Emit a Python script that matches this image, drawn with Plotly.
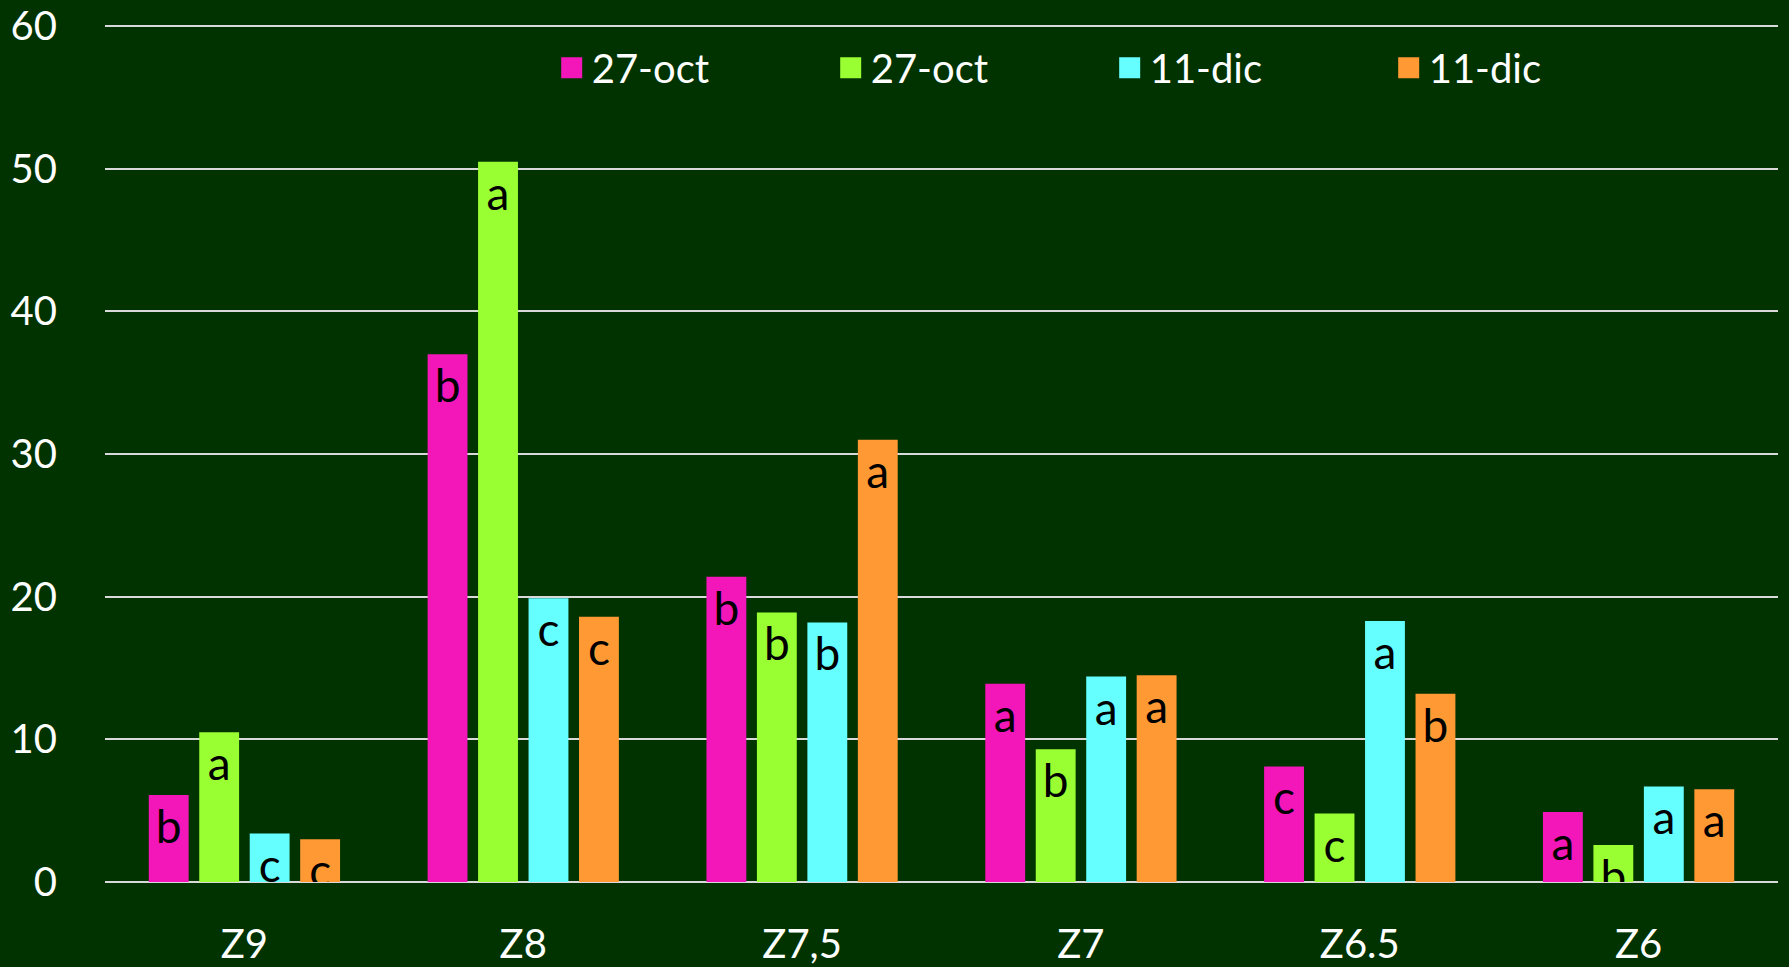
import plotly.graph_objects as go

categories = ["Z9", "Z8", "Z7,5", "Z7", "Z6.5", "Z6"]
series_names = ["27-oct", "27-oct", "11-dic", "11-dic"]
s1_values = [6.1, 37.0, 21.4, 13.9, 8.1, 4.9]
s2_values = [10.5, 50.5, 18.9, 9.3, 4.8, 2.6]
s3_values = [3.4, 19.9, 18.2, 14.4, 18.3, 6.7]
s4_values = [3.0, 18.6, 31.0, 14.5, 13.2, 6.5]
s1_letters = ["b", "b", "b", "a", "c", "a"]
s2_letters = ["a", "a", "b", "b", "c", "b"]
s3_letters = ["c", "c", "b", "a", "a", "a"]
s4_letters = ["c", "c", "a", "a", "b", "a"]
y_ticks = [0, 10, 20, 30, 40, 50, 60]

colors = ["#F316B8", "#99FF33", "#66FFFF", "#FF9933"]
values = [s1_values, s2_values, s3_values, s4_values]
letters = [s1_letters, s2_letters, s3_letters, s4_letters]

FONT = "Lato"
fig = go.Figure()
for name, vals, lets, col in zip(series_names, values, letters, colors):
    fig.add_trace(go.Bar(
        x=categories, y=vals, name=name, marker=dict(color=col, line=dict(width=0)),
        text=lets, textposition="inside", insidetextanchor="end", textangle=0,
        constraintext="none",
        textfont=dict(family=FONT, size=46, color="black"),
        showlegend=False, hoverinfo="skip",
    ))
    fig.add_trace(go.Scatter(
        x=[None], y=[None], mode="markers", name=name,
        marker=dict(symbol="square", size=16, color=col, line=dict(color=col, width=5)),
    ))

fig.update_layout(
    width=1789, height=967,
    paper_bgcolor="#003300", plot_bgcolor="#003300",
    margin=dict(l=105, r=11, t=24, b=85, autoexpand=False),
    barmode="group", bargap=0.276, bargroupgap=0.21,
    font=dict(family=FONT, color="white", size=40),
    legend=dict(
        orientation="h", x=0.267, y=0.949, xanchor="left", yanchor="middle",
        font=dict(family=FONT, size=40, color="white"),
        entrywidth=234, entrywidthmode="pixels",
        bgcolor="rgba(0,0,0,0)", itemclick=False,
    ),
    xaxis=dict(showgrid=False, zeroline=False, showline=False, ticks="",
               tickfont=dict(family=FONT, size=40, color="white"),
               ticklabelstandoff=35),
    yaxis=dict(range=[0, 60.15], tickvals=y_ticks, showgrid=True,
               gridcolor="#D9D9D9", gridwidth=2, zeroline=True,
               zerolinecolor="#D9D9D9", zerolinewidth=2, showline=False,
               tickfont=dict(family=FONT, size=40, color="white"),
               ticklabelstandoff=47),
)

fig.write_html("out.html", config={"displayModeBar": False},
               post_script="document.body.style.margin='0';document.body.style.background='#003300';")
